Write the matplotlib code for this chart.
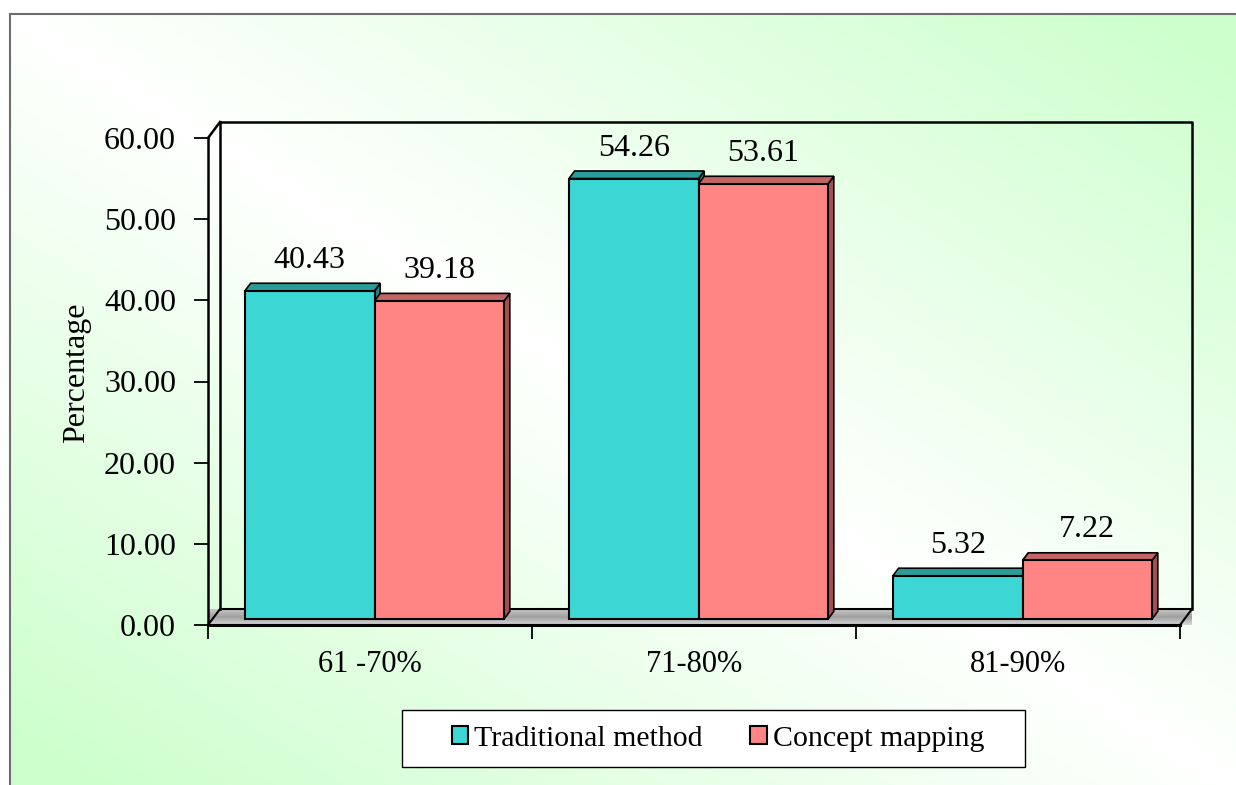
import numpy as np
import matplotlib
matplotlib.use('Agg')
import matplotlib.pyplot as plt
from matplotlib.patches import Polygon, Rectangle, Patch
from matplotlib.lines import Line2D

# ---------------- data ----------------
categories = ['61 -70%', '71-80%', '81-90%']
traditional = [40.43, 54.26, 5.32]
concept = [39.18, 53.61, 7.22]
series_names = ['Traditional method', 'Concept mapping']
yticks = [0, 10, 20, 30, 40, 50, 60]

# ---------------- style ----------------
plt.rcParams['font.family'] = ['Liberation Serif', 'DejaVu Serif']
front_cols = ['#3cd6d4', '#ff8585']
top_cols = ['#2a9c9a', '#c46464']
side_cols = ['#24807e', '#a85050']

W, H = 1236, 785
fig = plt.figure(figsize=(W / 100, H / 100), dpi=100)
fig.patch.set_facecolor('white')

# background gradient
bg = fig.add_axes([10 / W, 0, 1 - 10 / W, (H - 14) / H], zorder=-10)
nx, ny = 500, 320
U, V = np.meshgrid(np.linspace(0, 1, nx), np.linspace(0, 1, ny))
t = np.clip(np.abs(U - V) * 1.05, 0, 1)
green = np.array([204, 255, 204]) / 255
img = (1 - t)[..., None] * np.ones(3) + t[..., None] * green
bg.imshow(img, aspect='auto', extent=(0, 1, 0, 1), origin='upper')
bg.set_xlim(0, 1); bg.set_ylim(0, 1)
bg.set_axis_off()
fig.add_artist(Line2D([10 / W, 10 / W], [0, (H - 14) / H], color='#6e6e6e', lw=1.5,
                      transform=fig.transFigure))
fig.add_artist(Line2D([10 / W, 1], [(H - 14) / H, (H - 14) / H], color='#6e6e6e', lw=1.5,
                      transform=fig.transFigure))

# main axes: front plane
x0px, x1px, y0px, y1px = 208, 1180, 625, 138
ax = fig.add_axes([x0px / W, (H - y0px) / H, (x1px - x0px) / W, (y0px - y1px) / H])
ax.patch.set_visible(False)
ncat = len(categories)
ymax = yticks[-1]
ax.set_xlim(0, ncat)
ax.set_ylim(0, ymax)

px_per_x = (x1px - x0px) / ncat
px_per_y = (y0px - y1px) / ymax
DX = 12 / px_per_x
DY = 16 / px_per_y

# floor (gray slab) with gradient
floor = Polygon([(0, 0), (ncat, 0), (ncat + DX, DY), (DX, DY)], closed=True,
                facecolor='none', edgecolor='black', lw=1.5, zorder=2, clip_on=False)
grad = np.linspace(0, 1, 50)[:, None]
fimg = ax.imshow(grad, cmap=matplotlib.colors.LinearSegmentedColormap.from_list(
    'g', ['#d8d8d8', '#a0a0a0', '#c8c8c8']), aspect='auto',
    extent=(0, ncat + DX, 0, DY), origin='lower', zorder=1.5, clip_on=False)
fimg.set_clip_path(floor)
ax.add_patch(floor)
ax.set_xlim(0, ncat)
ax.set_ylim(0, ymax)

# walls
wall_kw = dict(color='black', lw=1.8, clip_on=False, zorder=2, solid_capstyle='projecting')
ax.plot([0, DX], [ymax, ymax + DY], **wall_kw)
ax.plot([DX, DX], [DY, ymax + DY], **wall_kw)
ax.plot([DX, ncat + DX, ncat + DX], [ymax + DY, ymax + DY, DY], **wall_kw)

# bars
f0, f1 = 0.375, 0.85
bw = 0.4
series = [traditional, concept]
for i in range(ncat):
    for j, vals in enumerate(series):
        v = vals[i]
        xl = i + 0.1 + j * bw
        a0x, a0y = xl + f0 * DX, f0 * DY
        b0x, b0y = xl + f1 * DX, f1 * DY
        side = Polygon([(a0x + bw, a0y), (b0x + bw, b0y), (b0x + bw, b0y + v), (a0x + bw, a0y + v)],
                       closed=True, facecolor=side_cols[j], edgecolor='black', lw=1.2, zorder=3)
        top = Polygon([(a0x, a0y + v), (a0x + bw, a0y + v), (b0x + bw, b0y + v), (b0x, b0y + v)],
                      closed=True, facecolor=top_cols[j], edgecolor='black', lw=1.2, zorder=3)
        front = Rectangle((a0x, a0y), bw, v, facecolor=front_cols[j], edgecolor='black',
                          lw=1.5, zorder=3)
        for p in (side, top, front):
            ax.add_patch(p)
        ax.text(a0x + bw / 2, b0y + v + 1.9, f'{v:.2f}', ha='center', va='baseline',
                fontsize=23, color='black', zorder=5)

# spines / ticks
for s in ['top', 'right']:
    ax.spines[s].set_visible(False)
ax.spines['left'].set_linewidth(1.8)
ax.spines['bottom'].set_linewidth(2.2)
ax.spines['left'].set_zorder(4)
ax.spines['bottom'].set_zorder(4)

ax.set_yticks(yticks, labels=[f'{y:.2f}' for y in yticks])
ax.tick_params(axis='y', direction='out', length=10, width=1.3, pad=13, labelsize=23)
ax.set_xticks(range(ncat + 1), labels=[''] * (ncat + 1))
ax.tick_params(axis='x', which='major', direction='out', length=10, width=1.3)
ax.set_xticks([i + 0.5 for i in range(ncat)], minor=True)
ax.set_xticklabels(categories, minor=True)
ax.tick_params(axis='x', which='minor', length=0, pad=18, labelsize=22)

ax.set_ylabel('Percentage', fontsize=23, va='center', ha='center')
ax.yaxis.set_label_coords((77 - x0px) / (x1px - x0px), (y0px - 373) / (y0px - y1px))

# legend
handles = [Patch(facecolor=front_cols[k], edgecolor='black', lw=1.5, label=series_names[k])
           for k in range(2)]
leg = fig.legend(handles=handles, loc='center', bbox_to_anchor=(718 / W, (H - 739) / H),
                 ncol=2, frameon=False, fontsize=21.5, handlelength=0.55, handleheight=0.55,
                 handletextpad=0.2, columnspacing=1.6)
fig.add_artist(Rectangle((402 / W, (H - 767) / H), (1025 - 402) / W, (767 - 710) / H,
                         transform=fig.transFigure, facecolor='white', edgecolor='black',
                         lw=1.0, zorder=-1))

fig.savefig('out.png', dpi=100)
